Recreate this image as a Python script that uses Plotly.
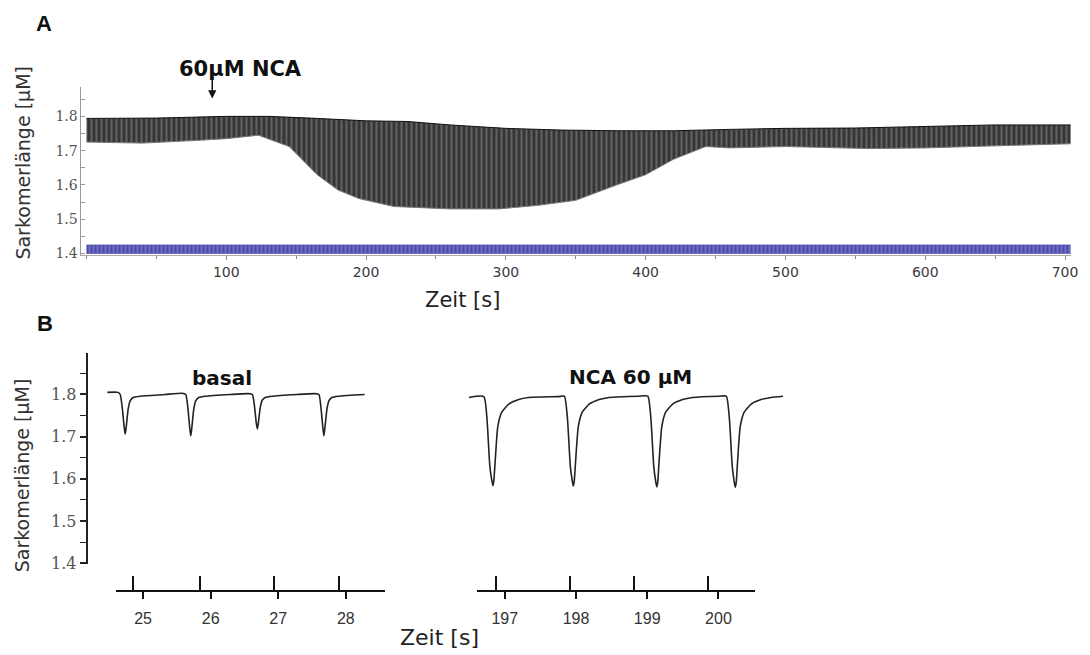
import plotly.graph_objects as go

W, H = 1090, 655

# ---------------- Panel A: envelope of sarcomere length over 700 s ----------------
A_T_UPPER = [0, 50, 100, 130, 160, 200, 230, 260, 300, 340, 380, 420, 460, 500, 550, 600, 650, 704]
A_UPPER = [1.794, 1.795, 1.800, 1.800, 1.795, 1.787, 1.785, 1.775, 1.765, 1.760, 1.758, 1.758,
           1.762, 1.765, 1.766, 1.770, 1.775, 1.775]
A_T_LOWER = [0, 40, 80, 100, 123, 145, 165, 180, 195, 220, 260, 295, 322, 350, 378, 400, 420,
             443, 460, 500, 560, 600, 650, 704]
A_LOWER = [1.725, 1.722, 1.730, 1.735, 1.745, 1.712, 1.630, 1.585, 1.560, 1.537, 1.530, 1.530,
           1.540, 1.555, 1.598, 1.630, 1.675, 1.712, 1.708, 1.712, 1.706, 1.708, 1.714, 1.720]
BAND_T = [0, 704]
BAND_LOW = [1.400, 1.400]
BAND_HIGH = [1.425, 1.425]
NCA_TIME = 90
A_XTICKS = [100, 200, 300, 400, 500, 600, 700]
Y_TICKS = [1.4, 1.5, 1.6, 1.7, 1.8]
Y_TICKTEXT = ["1.4", "1.5", "1.6", "1.7", "1.8"]

# ---------------- Panel B: single twitches ----------------
BASAL_T = [24.471, 24.632,
           24.662, 24.691, 24.721, 24.735, 24.750, 24.779, 24.809, 24.853, 24.956, 25.324, 25.574,
           25.632, 25.662, 25.691, 25.706, 25.721, 25.750, 25.779, 25.824, 25.926, 26.294,
           26.559, 26.618, 26.647, 26.676, 26.691, 26.706, 26.735, 26.765, 26.809, 26.912, 27.279,
           27.544, 27.603, 27.632, 27.662, 27.676, 27.691, 27.721, 27.750, 27.794, 27.897, 28.279]
BASAL_Y = [1.805, 1.805,
           1.800, 1.770, 1.722, 1.706, 1.722, 1.765, 1.785, 1.793, 1.796, 1.800, 1.803,
           1.800, 1.770, 1.720, 1.702, 1.720, 1.765, 1.785, 1.793, 1.796, 1.800,
           1.802, 1.800, 1.775, 1.732, 1.718, 1.732, 1.770, 1.787, 1.793, 1.796, 1.800,
           1.802, 1.800, 1.770, 1.720, 1.702, 1.720, 1.765, 1.785, 1.793, 1.796, 1.800]
NCA_T = [196.498, 196.707, 196.749, 196.791, 196.819, 196.833, 196.847, 196.861, 196.902, 196.958, 197.056, 197.195, 197.335, 197.753,
         197.837, 197.879, 197.921, 197.948, 197.962, 197.976, 197.990, 198.032, 198.088, 198.185, 198.325, 198.464, 198.883,
         199.008, 199.050, 199.092, 199.120, 199.134, 199.148, 199.162, 199.204, 199.259, 199.357, 199.496, 199.636, 200.013,
         200.110, 200.152, 200.194, 200.222, 200.236, 200.250, 200.264, 200.305, 200.361, 200.459, 200.598, 200.738, 200.905]
NCA_Y = [1.793, 1.795, 1.746, 1.629, 1.596, 1.584, 1.596, 1.629, 1.723, 1.758, 1.777, 1.788, 1.793, 1.795,
         1.796, 1.746, 1.629, 1.595, 1.583, 1.595, 1.629, 1.723, 1.758, 1.777, 1.788, 1.793, 1.796,
         1.796, 1.746, 1.629, 1.593, 1.581, 1.593, 1.629, 1.723, 1.758, 1.777, 1.788, 1.793, 1.796,
         1.796, 1.746, 1.629, 1.592, 1.580, 1.592, 1.629, 1.723, 1.758, 1.777, 1.788, 1.793, 1.796]
STIM_BASAL = [24.853, 25.838, 26.941, 27.897]
STIM_NCA = [196.874, 197.921, 198.813, 199.859]
BASAL_XTICKS = [25, 26, 27, 28]
NCA_XTICKS = [197, 198, 199, 200]


def px(x):
    return x / W


def py(y):
    return 1 - y / H


fig = go.Figure()

# Panel A band
fig.add_trace(go.Scatter(x=A_T_LOWER, y=A_LOWER, mode="lines", line=dict(color="#777", width=1),
                         xaxis="x", yaxis="y", hoverinfo="skip", showlegend=False))
fig.add_trace(go.Scatter(x=A_T_UPPER, y=A_UPPER, mode="lines", line=dict(color="#111", width=1),
                         fill="tonexty", fillcolor="#4a4a4a",
                         fillpattern=dict(shape="|", fgcolor="#0a0a0a", bgcolor="#626262", size=5, solidity=0.6),
                         xaxis="x", yaxis="y", hoverinfo="skip", showlegend=False))
fig.add_trace(go.Scatter(x=BAND_T, y=BAND_LOW, mode="lines", line=dict(color="#2a2aa0", width=0.5),
                         xaxis="x", yaxis="y", hoverinfo="skip", showlegend=False))
fig.add_trace(go.Scatter(x=BAND_T, y=BAND_HIGH, mode="lines", line=dict(color="#2a2aa0", width=0.5),
                         fill="tonexty", fillcolor="#5c5cb8",
                         fillpattern=dict(shape="|", fgcolor="#16168a", bgcolor="#7c7cca", size=4, solidity=0.6),
                         xaxis="x", yaxis="y", hoverinfo="skip", showlegend=False))

# invisible carriers for the time axes of panel B (added first so they sit underneath)
fig.add_trace(go.Scatter(x=STIM_BASAL, y=[1.8] * len(STIM_BASAL), mode="markers", marker=dict(opacity=0, size=1),
                         xaxis="x3", yaxis="y2", hoverinfo="skip", showlegend=False))
fig.add_trace(go.Scatter(x=STIM_NCA, y=[1.8] * len(STIM_NCA), mode="markers", marker=dict(opacity=0, size=1),
                         xaxis="x5", yaxis="y2", hoverinfo="skip", showlegend=False))
# Panel B traces
fig.add_trace(go.Scatter(x=BASAL_T, y=BASAL_Y, mode="lines", line=dict(color="#222", width=1.6, shape="spline", smoothing=0.5),
                         xaxis="x2", yaxis="y2", hoverinfo="skip", showlegend=False))
fig.add_trace(go.Scatter(x=NCA_T, y=NCA_Y, mode="lines", line=dict(color="#222", width=1.6, shape="spline", smoothing=0.5),
                         xaxis="x4", yaxis="y2", hoverinfo="skip", showlegend=False))

serif = "DejaVu Serif, Liberation Serif, serif"
sans = "DejaVu Sans, Liberation Sans, sans-serif"
arial = "Liberation Sans, Arial, sans-serif"

# Panel A axis scale: 1.407 px / s, t=0 at px 87
fig.update_layout(
    width=W, height=H, margin=dict(l=0, r=0, t=0, b=0),
    paper_bgcolor="white", plot_bgcolor="rgba(0,0,0,0)",
    xaxis=dict(domain=[px(82), px(1078)], range=[-3.55, 704.3], anchor="y",
               tickmode="array", tickvals=A_XTICKS, ticks="outside", ticklen=4, tickcolor="#888",
               minor=dict(dtick=50, tick0=0, ticks="outside", ticklen=3, tickcolor="#888"),
               showline=True, linecolor="#aaa", linewidth=1, showgrid=False, zeroline=False,
               tickfont=dict(family=sans, size=14, color="#3a3a3a")),
    yaxis=dict(domain=[py(259), py(88)], range=[1.3942, 1.8863], anchor="x",
               tickmode="array", tickvals=Y_TICKS, ticktext=Y_TICKTEXT, ticks="inside", ticklen=4, tickcolor="#999",
               minor=dict(dtick=0.05, tick0=1.4, ticks="inside", ticklen=4, tickcolor="#999"),
               showline=True, linecolor="#999", linewidth=1, showgrid=False, zeroline=False,
               tickfont=dict(family=serif, size=14, color="#555")),
    xaxis2=dict(domain=[px(88), px(400)], range=[24.1765, 28.7647], anchor="y2", visible=False),
    yaxis2=dict(domain=[py(572), py(358)], range=[1.3977, 1.8982], anchor="free", position=px(88),
                tickmode="array", tickvals=Y_TICKS, ticktext=Y_TICKTEXT, ticks="outside", ticklen=7,
                tickwidth=1.5, tickcolor="#222",
                minor=dict(dtick=0.05, tick0=1.4, ticks="outside", ticklen=7, tickwidth=1.2, tickcolor="#222"),
                showline=True, linecolor="#222", linewidth=1.5, showgrid=False, zeroline=False,
                tickfont=dict(family=serif, size=16, color="#555")),
    xaxis3=dict(domain=[px(117), px(387)], range=[24.6029, 28.5735], anchor="free", position=py(599),
                tickmode="array", tickvals=BASAL_XTICKS, ticks="outside", ticklen=7, tickwidth=1.5, tickcolor="#111",
                minor=dict(tickmode="array", tickvals=STIM_BASAL, ticks="inside", ticklen=14, tickwidth=1.5,
                           tickcolor="#111"),
                showline=True, linecolor="#111", linewidth=2, showgrid=False, zeroline=False,
                ticklabelstandoff=6,
                tickfont=dict(family=arial, size=16, color="#333")),
    xaxis4=dict(domain=[px(460), px(800)], range=[196.3305, 201.0725], anchor="y2", visible=False),
    xaxis5=dict(domain=[px(480), px(760)], range=[196.6095, 200.5146], anchor="free", position=py(599),
                tickmode="array", tickvals=NCA_XTICKS, ticks="outside", ticklen=7, tickwidth=1.5, tickcolor="#111",
                minor=dict(tickmode="array", tickvals=STIM_NCA, ticks="inside", ticklen=14, tickwidth=1.5,
                           tickcolor="#111"),
                showline=True, linecolor="#111", linewidth=2, showgrid=False, zeroline=False,
                ticklabelstandoff=6,
                tickfont=dict(family=arial, size=16, color="#333")),
)

ann = []
ann.append(dict(text="<b>A</b>", x=px(44), y=py(24), xref="paper", yref="paper", showarrow=False,
                font=dict(family=arial, size=22, color="#111"), xanchor="center", yanchor="middle"))
ann.append(dict(text="<b>B</b>", x=px(45), y=py(328), xref="paper", yref="paper", showarrow=False,
                font=dict(family=arial, size=22, color="#111"), xanchor="center", yanchor="middle"))
ann.append(dict(text="<b>60µM NCA</b>", x=px(242), y=py(70), xref="paper", yref="paper", showarrow=False,
                font=dict(family=sans, size=21, color="#111"), xanchor="center", yanchor="middle"))
ann.append(dict(text="", x=NCA_TIME, y=1.852, xref="x", yref="y", showarrow=True, ax=0, ay=-21,
                arrowhead=2, arrowsize=1.1, arrowwidth=1.5, arrowcolor="#111"))
ann.append(dict(text="<b>basal</b>", x=px(223), y=py(383), xref="paper", yref="paper", showarrow=False,
                font=dict(family=sans, size=20, color="#111"), xanchor="center", yanchor="middle"))
ann.append(dict(text="<b>NCA 60 µM</b>", x=px(635), y=py(382), xref="paper", yref="paper", showarrow=False,
                font=dict(family=sans, size=20, color="#111"), xanchor="center", yanchor="middle"))
ann.append(dict(text="Zeit [s]", x=px(465), y=py(304), xref="paper", yref="paper", showarrow=False,
                font=dict(family=sans, size=21, color="#222"), xanchor="center", yanchor="middle"))
ann.append(dict(text="Zeit [s]", x=px(442), y=py(646), xref="paper", yref="paper", showarrow=False,
                font=dict(family=sans, size=22, color="#222"), xanchor="center", yanchor="middle"))
for yc in (165, 482):
    ann.append(dict(text="Sarkomerlänge [µM]", x=px(23), y=py(yc), xref="paper", yref="paper", showarrow=False,
                    textangle=-90, font=dict(family=sans, size=19, color="#333"),
                    xanchor="center", yanchor="middle"))
fig.update_layout(annotations=ann)

fig.write_html("out.html")
